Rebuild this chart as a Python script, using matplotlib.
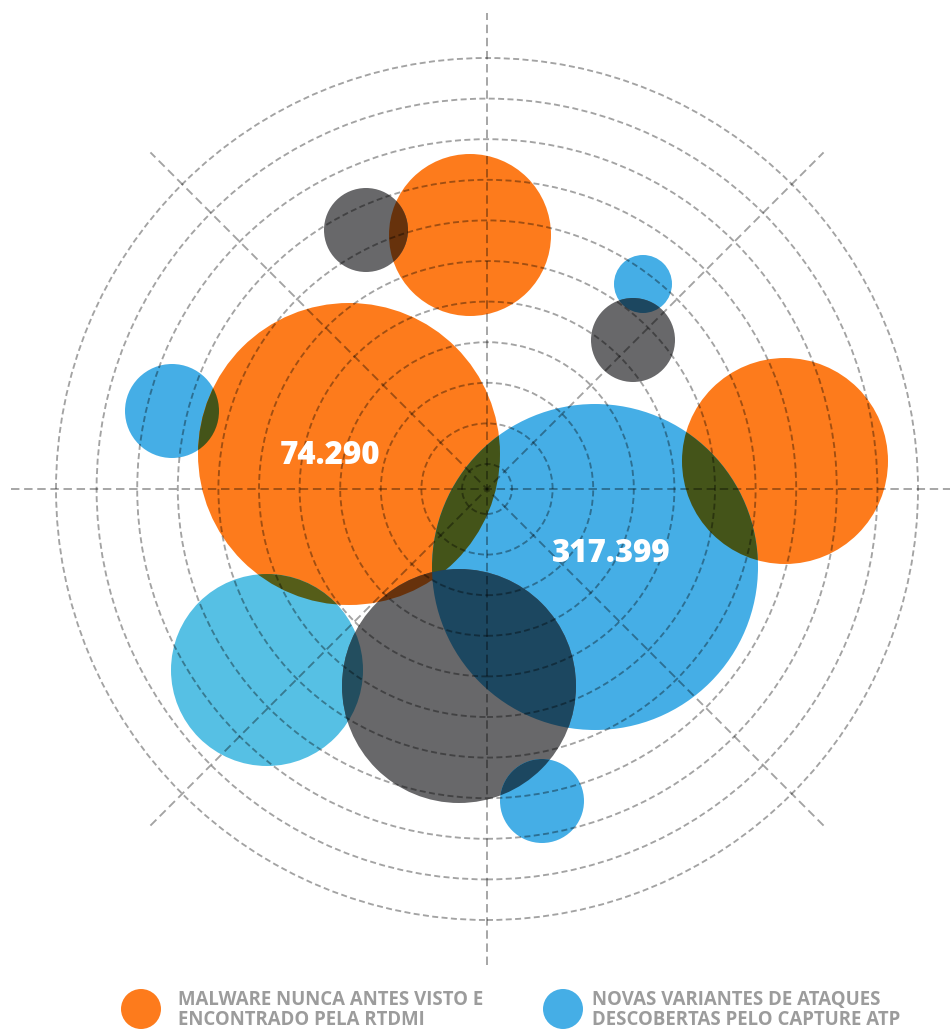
"""
Bubble map of threat counts over a dashed radar grid.
Overlaps are drawn as multiply blends (clip one disc to another).
"""

import numpy as np
import matplotlib
matplotlib.use('Agg')
import matplotlib.pyplot as plt
from matplotlib.patches import Circle
from matplotlib.colors import to_rgb

ORANGE = '#FD7B1C'
BLUE = '#45AEE6'
LIGHT_BLUE = '#56C0E4'
GRAY = '#68686A'

# bubbles: centre x, centre y, radius (grid units, origin at the grid centre)
bubble_x = [-17, -121, 156, 146, -315, -138, 298, 108, -220, -28, 55]
bubble_y = [254, 259, 205, 149, 78, 35, 28, -78, -181, -197, -312]
bubble_r = [81, 42, 29, 42, 47, 151, 103, 163, 96, 117, 42]
bubble_c = [ORANGE, GRAY, BLUE, GRAY, BLUE, ORANGE, ORANGE, BLUE, LIGHT_BLUE, GRAY, BLUE]

# value labels
label_values = ['74.290', '317.399']
label_x = [-157, 124]
label_y = [33, -65]

# grid
ring_radii = [25 + 40.6 * k for k in range(11)]
spoke_len = 476

legend_labels = ['MALWARE NUNCA ANTES VISTO E\nENCONTRADO PELA RTDMI',
                 'NOVAS VARIANTES DE ATAQUES\nDESCOBERTAS PELO CAPTURE ATP']
legend_colors = [ORANGE, BLUE]
legend_dot_x = [-346, 76]
legend_text_x = [-309, 105]
legend_y = -520


def multiply(c1, c2):
    a, b = np.array(to_rgb(c1)), np.array(to_rgb(c2))
    return tuple(a * b)


fig = plt.figure(figsize=(9.5, 10.29), dpi=100)
ax = fig.add_axes([0, 0, 1, 1])
ax.set_xlim(-487, 463)
ax.set_ylim(-540, 489)
ax.set_aspect('equal')
ax.axis('off')

# plain discs
for x, y, r, c in zip(bubble_x, bubble_y, bubble_r, bubble_c):
    ax.add_patch(Circle((x, y), r, facecolor=c, edgecolor='none', zorder=1))

# overlapping parts, coloured as the product of both discs
n = len(bubble_x)
for i in range(n):
    for j in range(i + 1, n):
        d = np.hypot(bubble_x[i] - bubble_x[j], bubble_y[i] - bubble_y[j])
        if d >= bubble_r[i] + bubble_r[j]:
            continue
        clip = Circle((bubble_x[i], bubble_y[i]), bubble_r[i], transform=ax.transData)
        p = Circle((bubble_x[j], bubble_y[j]), bubble_r[j],
                   facecolor=multiply(bubble_c[i], bubble_c[j]), edgecolor='none', zorder=2)
        ax.add_patch(p)
        p.set_clip_path(clip)

# dashed grid on top, translucent black so it darkens what is under it
grid_kw = dict(color='black', alpha=0.36, linewidth=1.35, zorder=3)
for r in ring_radii:
    ax.add_patch(Circle((0, 0), r, fill=False, linestyle=(0, (3.2, 1.8)), **grid_kw))
for ang in [0, 45, 90, 135]:
    t = np.deg2rad(ang)
    dx, dy = spoke_len * np.cos(t), spoke_len * np.sin(t)
    ax.plot([-dx, dx], [-dy, dy], linestyle=(0, (4.5, 2.5)), solid_capstyle='butt', **grid_kw)

for txt, x, y in zip(label_values, label_x, label_y):
    ax.text(x, y, txt, color='white', fontsize=22.5, fontweight='heavy', family='Open Sans',
            ha='center', va='center', zorder=4)

for lab, c, dx, tx in zip(legend_labels, legend_colors, legend_dot_x, legend_text_x):
    ax.add_patch(Circle((dx, legend_y), 20, facecolor=c, edgecolor='none'))
    ax.text(tx, legend_y - 1, lab, color='#9C9C9C', fontsize=13.4, fontweight='bold',
            family='Open Sans', ha='left', va='center', linespacing=0.97)

fig.savefig('out.png', dpi=100, facecolor='white')
